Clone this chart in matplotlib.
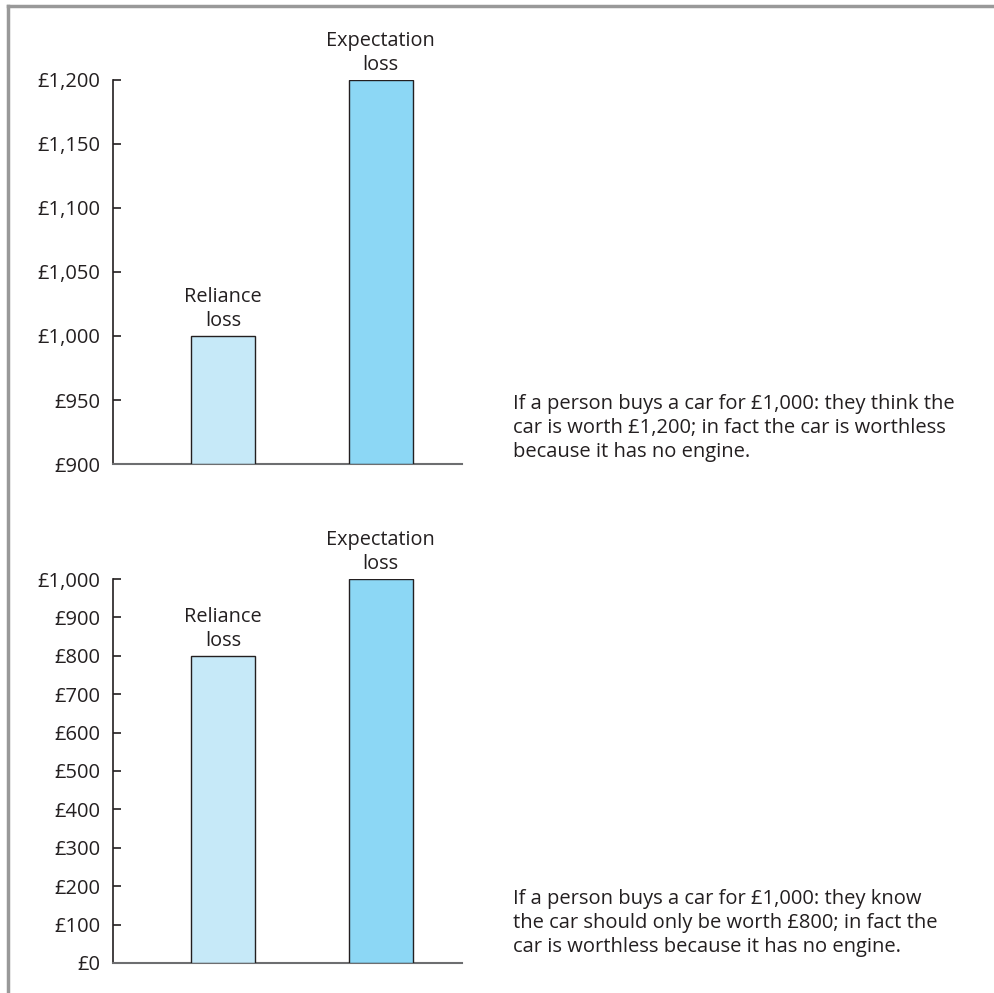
import matplotlib
matplotlib.use("Agg")
import matplotlib.pyplot as plt
from matplotlib.lines import Line2D

plt.rcParams["font.family"] = ["Open Sans", "DejaVu Sans"]

labels = ["Reliance\nloss", "Expectation\nloss"]
colors = ["#c6e9f8", "#8cd7f5"]

top_values = [1000, 1200]
top_ticks = [900, 950, 1000, 1050, 1100, 1150, 1200]
top_note = ("If a person buys a car for £1,000: they think the\n"
            "car is worth £1,200; in fact the car is worthless\n"
            "because it has no engine.")

bot_values = [800, 1000]
bot_ticks = [0, 100, 200, 300, 400, 500, 600, 700, 800, 900, 1000]
bot_note = ("If a person buys a car for £1,000: they know\n"
            "the car should only be worth £800; in fact the\n"
            "car is worthless because it has no engine.")

EDGE = "#231f20"
TXT = "#231f20"

fig = plt.figure(figsize=(9.95, 9.93), dpi=100)

# grey frame along top and left edge
fig.add_artist(Line2D([8 / 995, 1], [1 - 6 / 993, 1 - 6 / 993],
                      transform=fig.transFigure, color="#999999", lw=2.5))
fig.add_artist(Line2D([8 / 995, 8 / 995], [0, 1 - 6 / 993],
                      transform=fig.transFigure, color="#999999", lw=2.5))


def panel(rect, values, ticks, lo, hi, note, note_y):
    ax = fig.add_axes(rect)
    x = range(len(values))
    ax.bar(x, [v - lo for v in values], bottom=lo, width=0.406,
           color=colors, edgecolor=EDGE, linewidth=1.0, zorder=3)
    for xi, v, lab in zip(x, values, labels):
        ax.text(xi, v + (hi - lo) * 0.012, lab, ha="center", va="bottom",
                fontsize=14.3, color=TXT, linespacing=1.3)
    ax.set_xlim(-0.698, 1.517)
    ax.set_ylim(lo, hi)
    ax.set_xticks([])
    ax.set_yticks(ticks)
    ax.set_yticklabels([f"£{t:,}" for t in ticks])
    ax.tick_params(axis="y", direction="in", length=6, width=1.2,
                   color=EDGE, labelsize=14.5, labelcolor=TXT, pad=9)
    for s in ["top", "right"]:
        ax.spines[s].set_visible(False)
    ax.spines["left"].set_color(EDGE)
    ax.spines["left"].set_linewidth(1.2)
    ax.spines["bottom"].set_color("#6d6e70")
    ax.spines["bottom"].set_linewidth(1.5)
    ax.patch.set_alpha(0)
    fig.text(513 / 995, note_y, note, ha="left", va="top", fontsize=14.5,
             color=TXT, linespacing=1.26)
    return ax


panel([113 / 995, 1 - 464 / 993, 349 / 995, 384 / 993],
      top_values, top_ticks, 900, 1200, top_note, 1 - 394 / 993)
panel([113 / 995, 1 - 963 / 993, 349 / 995, 384 / 993],
      bot_values, bot_ticks, 0, 1000, bot_note, 1 - 889 / 993)

fig.savefig("out.png", dpi=100, facecolor="white")
